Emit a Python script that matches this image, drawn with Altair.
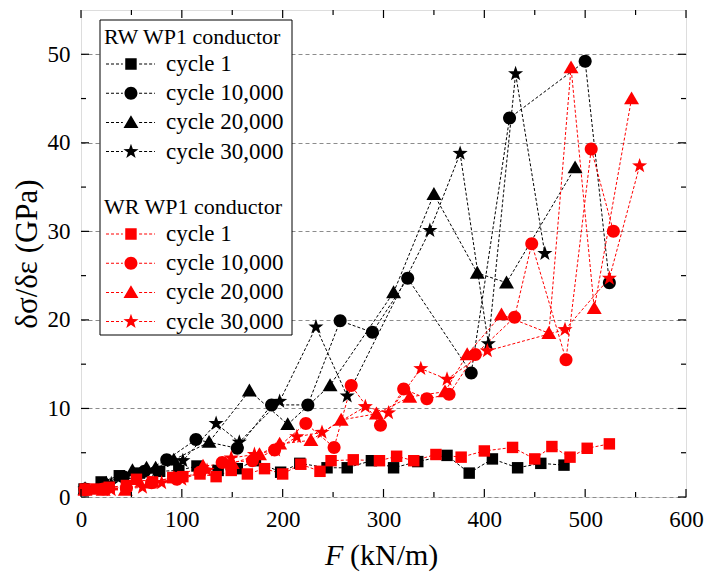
import math
import altair as alt
import pandas as pd

SERIF = "Liberation Serif"
CYCLES = ["cycle 1", "cycle 10,000", "cycle 20,000", "cycle 30,000"]

# ---- RW WP1 conductor -------------------------------------------------
rw_c1_F = [3, 20, 38, 58, 78, 97, 115, 136, 155, 173, 198, 217, 244, 264, 288, 310, 334, 363, 385, 408, 433, 456, 479]
rw_c1_E = [0.9, 1.7, 2.4, 2.7, 2.9, 3.0, 3.5, 3.0, 3.2, 4.1, 2.8, 3.8, 3.3, 3.3, 4.1, 3.3, 4.0, 4.7, 2.7, 4.3, 3.3, 3.8, 3.6]

rw_c10k_F = [4, 22, 42, 63, 85, 114, 155, 189, 225, 257, 289, 324, 387, 425, 500, 524]
rw_c10k_E = [0.9, 1.5, 2.3, 2.9, 4.2, 6.5, 5.5, 10.4, 10.4, 19.9, 18.6, 24.7, 14.0, 42.8, 49.2, 24.2]

rw_c20k_F = [4, 25, 51, 65, 74, 92, 127, 167, 205, 247, 310, 350, 393, 422, 490]
rw_c20k_E = [0.9, 1.6, 3.0, 3.3, 3.3, 4.2, 6.2, 12.0, 8.2, 12.6, 23.1, 34.2, 25.3, 24.2, 37.2]

rw_c30k_F = [4, 30, 55, 75, 101, 134, 157, 197, 233, 264, 346, 376, 404, 431, 460]
rw_c30k_E = [0.9, 1.5, 2.3, 3.0, 4.1, 8.3, 6.2, 10.8, 19.2, 11.4, 30.1, 38.8, 17.3, 47.8, 27.5]

# ---- WR WP1 conductor -------------------------------------------------
wr_c1_F = [4, 15, 28, 45, 55, 71, 91, 101, 118, 134, 149, 165, 182, 200, 218, 237, 248, 270, 296, 313, 330, 352, 377, 400, 428, 450, 467, 485, 502, 524]
wr_c1_E = [0.9, 0.9, 1.1, 1.3, 2.0, 1.7, 2.2, 2.3, 2.6, 2.3, 3.0, 2.6, 3.2, 2.6, 3.7, 2.9, 4.1, 4.2, 4.1, 4.6, 4.1, 4.8, 4.5, 5.2, 5.6, 4.3, 5.7, 4.5, 5.5, 6.0]

wr_c10k_F = [4, 22, 45, 70, 95, 118, 140, 170, 192, 223, 251, 268, 297, 320, 343, 365, 391, 430, 447, 481, 506, 528]
wr_c10k_E = [0.8, 0.9, 1.0, 1.6, 2.0, 2.8, 3.9, 4.1, 5.3, 8.3, 5.6, 12.6, 8.1, 12.2, 11.1, 11.6, 16.1, 20.3, 28.6, 15.5, 39.3, 30.0]

wr_c20k_F = [4, 22, 44, 68, 92, 121, 150, 177, 197, 228, 258, 293, 326, 361, 383, 417, 464, 486, 509, 546]
wr_c20k_E = [0.8, 0.8, 0.8, 1.6, 2.2, 3.5, 3.8, 4.8, 6.0, 6.4, 8.7, 9.4, 11.3, 11.9, 16.1, 20.6, 18.5, 48.5, 21.3, 45.0]

wr_c30k_F = [4, 30, 61, 80, 100, 125, 149, 172, 193, 214, 239, 282, 305, 337, 363, 403, 480, 524, 554]
wr_c30k_E = [0.8, 0.8, 1.1, 1.6, 2.0, 3.0, 4.4, 4.8, 5.3, 6.8, 7.3, 10.2, 9.5, 14.5, 13.3, 16.5, 18.9, 24.7, 37.4]

# ---- axis ticks ---------------------------------------------------------
x_major = [0, 100, 200, 300, 400, 500, 600]
x_minor = [50, 150, 250, 350, 450, 550]
y_major = [0, 10, 20, 30, 40, 50]
y_minor = [5, 15, 25, 35, 45]

series = [
    ("RW", CYCLES[0], rw_c1_F, rw_c1_E),
    ("RW", CYCLES[1], rw_c10k_F, rw_c10k_E),
    ("RW", CYCLES[2], rw_c20k_F, rw_c20k_E),
    ("RW", CYCLES[3], rw_c30k_F, rw_c30k_E),
    ("WR", CYCLES[0], wr_c1_F, wr_c1_E),
    ("WR", CYCLES[1], wr_c10k_F, wr_c10k_E),
    ("WR", CYCLES[2], wr_c20k_F, wr_c20k_E),
    ("WR", CYCLES[3], wr_c30k_F, wr_c30k_E),
]
df = pd.DataFrame(
    [{"wire": w, "cycle": c, "F": f, "E": e}
     for w, c, fs, es in series for f, e in zip(fs, es)]
)

W, H = 605, 487
RED = "#ff0000"
BLACK = "#000000"
UNIT = 6.5  # pixels per path unit at size 169


# ---- marker paths (unit coordinates, scaled by sqrt(size)/2) ----------
def poly(points):
    return "M" + "L".join(f"{x:.3f},{y:.3f}" for x, y in points) + "Z"


def square(cx=0.0, h=0.88):
    return poly([(cx - h, -h), (cx + h, -h), (cx + h, h), (cx - h, h)])


def circle(cx=0.0, r=1.0):
    return (f"M{cx + r:.3f},0A{r},{r} 0 1,1 {cx - r:.3f},0"
            f"A{r},{r} 0 1,1 {cx + r:.3f},0Z")


def triangle(cx=0.0):
    return poly([(cx, -1.1), (cx + 1.15, 0.88), (cx - 1.15, 0.88)])


def star(cx=0.0, R=1.22, r=0.49):
    pts = []
    for k in range(10):
        a = math.radians(-90 + 36 * k)
        rad = R if k % 2 == 0 else r
        pts.append((cx + rad * math.cos(a), rad * math.sin(a)))
    return poly(pts)


def dashes(x0, x1, dash=3.0, gap=2.0, thick=1.0):
    # thin filled bars forming a dashed segment
    d, g, t = dash / UNIT, gap / UNIT, thick / UNIT / 2
    out, x = [], x0
    while x < x1 - 0.05:
        e = min(x + d, x1)
        out.append(poly([(x, -t), (e, -t), (e, t), (x, t)]))
        x = e + g
    return "".join(out)


MARKERS = [square, circle, triangle, star]
PLOT_SHAPES = [m() for m in MARKERS]

# legend glyph: dashed line with the marker in the middle
LEG_CX = 2.38
LEG_SHAPES = [
    dashes(-1.46, LEG_CX - 1.25) + m(LEG_CX) + dashes(LEG_CX + 1.25, 6.08)
    for m in MARKERS
]

x_scale = alt.Scale(domain=[0, 600], nice=False, zero=False)
y_scale = alt.Scale(domain=[0, 55], nice=False, zero=False)

x_axis = alt.Axis(
    values=x_major, title=None, ticks=False, domain=False, grid=False,
    labelFont=SERIF, labelFontSize=23, labelColor="black", labelPadding=11,
    labelFlush=False,
)
y_axis = alt.Axis(
    values=y_major, title="δσ/δε (GPa)", ticks=False, domain=False,
    grid=True, gridColor="#8c8c8c", gridDash=[4, 3], gridWidth=1,
    labelFont=SERIF, labelFontSize=23, labelColor="black", labelPadding=11,
    labelFlush=False,
    titleFont=SERIF, titleFontSize=31, titleFontWeight="normal",
    titleColor="black", titlePadding=4,
)

X = alt.X("F:Q", scale=x_scale, axis=x_axis)
Y = alt.Y("E:Q", scale=y_scale, axis=y_axis)

base = alt.Chart(df)


def wire_layers(wire, color):
    sub = base.transform_filter(f"datum.wire == '{wire}'")
    lines = sub.mark_line(color=color, strokeWidth=1, strokeDash=[3, 2]).encode(
        x=X, y=Y, detail="cycle:N"
    )
    points = sub.mark_point(filled=True, size=169, opacity=1, color=color,
                            strokeWidth=0).encode(
        x=X, y=Y,
        shape=alt.Shape("cycle:N", scale=alt.Scale(domain=CYCLES, range=PLOT_SHAPES),
                        legend=None),
    )
    return lines, points


def legend_layer(title, color, ly):
    leg = alt.Legend(
        title=title, orient="none", legendX=23, legendY=ly, padding=0,
        titleFont=SERIF, titleFontSize=22, titleFontWeight="normal",
        titleColor="black", titleLimit=400, titlePadding=3.5,
        labelFont=SERIF, labelFontSize=23, labelColor="black",
        labelLimit=400, labelOffset=39,
        symbolSize=169, symbolFillColor=color, symbolStrokeColor=color,
        symbolStrokeWidth=0, symbolOpacity=1, rowPadding=5.2, zindex=2,
    )
    return base.transform_filter("false").mark_point(
        filled=True, size=169, opacity=1, color=color, strokeWidth=0
    ).encode(
        x=X, y=Y,
        shape=alt.Shape("cycle:N", scale=alt.Scale(domain=CYCLES, range=LEG_SHAPES),
                        legend=leg),
    )


rw_lines, rw_points = wire_layers("RW", BLACK)
wr_lines, wr_points = wire_layers("WR", RED)

# inward tick marks on all four sides
xt_major = alt.Chart(pd.DataFrame({"F": x_major}))
xt_minor = alt.Chart(pd.DataFrame({"F": x_minor}))
yt_major = alt.Chart(pd.DataFrame({"E": y_major}))
yt_minor = alt.Chart(pd.DataFrame({"E": y_minor}))


def xticks(src, length):
    bottom = src.mark_rule(color="black", strokeWidth=1.2).encode(
        x=X, y=alt.value(H), y2=alt.value(H - length))
    top = src.mark_rule(color="black", strokeWidth=1.2).encode(
        x=X, y=alt.value(0), y2=alt.value(length))
    return [bottom, top]


def yticks(src, length):
    left = src.mark_rule(color="black", strokeWidth=1.2).encode(
        y=Y, x=alt.value(0), x2=alt.value(length))
    right = src.mark_rule(color="black", strokeWidth=1.2).encode(
        y=Y, x=alt.value(W), x2=alt.value(W - length))
    return [left, right]


one = alt.Chart(alt.Data(values=[{}]))
legend_box = one.mark_rect(fill="white", stroke="black", strokeWidth=1).encode(
    x=alt.value(19), x2=alt.value(211), y=alt.value(10), y2=alt.value(325)
)
title_f = one.mark_text(text="F", font=SERIF, fontSize=30, fontStyle="italic",
                        align="left", baseline="alphabetic", color="black").encode(
    x=alt.value(244), y=alt.value(555))
title_unit = one.mark_text(text="(kN/m)", font=SERIF, fontSize=30,
                           align="left", baseline="alphabetic", color="black").encode(
    x=alt.value(269), y=alt.value(555))

chart = alt.layer(
    rw_lines, wr_lines, rw_points, wr_points,
    *xticks(xt_major, 8), *xticks(xt_minor, 5),
    *yticks(yt_major, 8), *yticks(yt_minor, 5),
    legend_box,
    legend_layer("RW WP1 conductor", BLACK, 17),
    legend_layer("WR WP1 conductor", RED, 187),
    title_f, title_unit,
).resolve_scale(
    shape="independent"
).properties(
    width=W, height=H,
    autosize=alt.AutoSizeParams(type="none"),
    padding={"left": 81, "top": 10, "right": 21, "bottom": 80},
).configure_view(
    stroke="black", strokeWidth=1.3
).configure(
    background="white"
)

chart.save("out.html", embed_options={"renderer": "svg", "actions": False})
